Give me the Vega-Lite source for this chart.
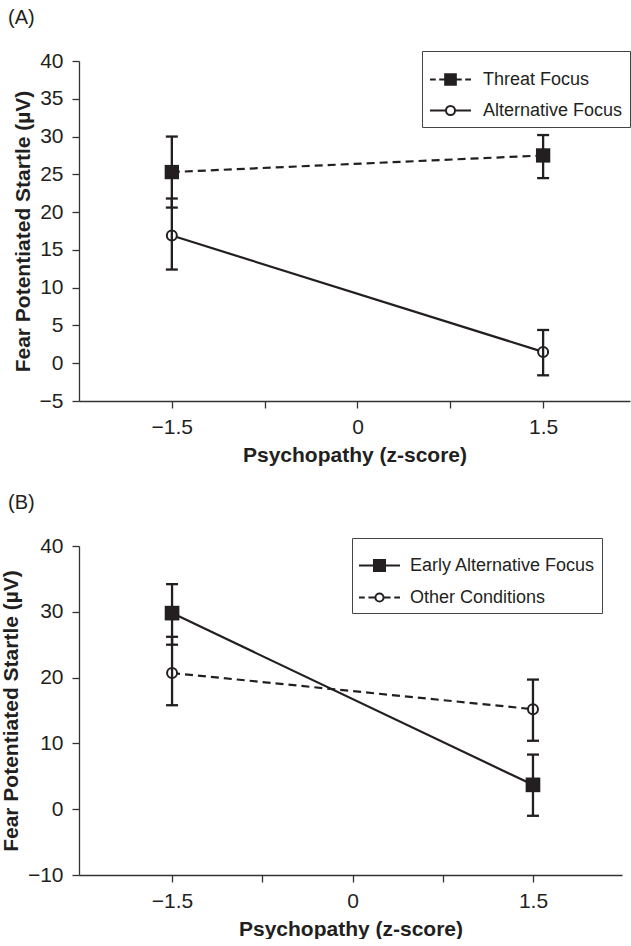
{
  "$schema": "https://vega.github.io/schema/vega-lite/v6.json",
  "padding": {"left": 0, "top": 8, "right": 0, "bottom": 0},
  "background": "white",
  "spacing": 28,
  "resolve": {"scale": {"shape": "independent", "fill": "independent", "stroke": "independent"}},
  "config": {
    "font": "Liberation Sans",
    "view": {"stroke": null},
    "axis": {
      "domainColor": "#333333", "domainWidth": 1.3, "tickColor": "#333333", "tickWidth": 1.3, "tickSize": 7,
      "grid": false, "labelFont": "Liberation Sans", "labelFontSize": 21, "labelColor": "#231f20",
      "titleFont": "Liberation Sans", "titleFontSize": 21, "titleFontWeight": "bold", "titleColor": "#231f20"
    },
    "axisX": {"labelPadding": 8, "titlePadding": 7},
    "axisY": {"labelPadding": 9, "titlePadding": 6},
    "title": {"font": "Liberation Sans", "fontSize": 20, "fontWeight": "normal", "color": "#231f20", "anchor": "start", "frame": "group"}
  },
  "vconcat": [
    {
      "title": {"text": "(A)", "dx": -71, "offset": 22},
      "width": 551,
      "height": 340,
      "data": {"values": [
        {"z": -1.5, "group": "Threat Focus", "y": 25.3, "lo": 20.6, "hi": 30.0},
        {"z": 1.5, "group": "Threat Focus", "y": 27.5, "lo": 24.5, "hi": 30.2},
        {"z": -1.5, "group": "Alternative Focus", "y": 16.9, "lo": 12.4, "hi": 21.8},
        {"z": 1.5, "group": "Alternative Focus", "y": 1.5, "lo": -1.6, "hi": 4.4}
      ]},
      "encoding": {
        "x": {"field": "z", "type": "quantitative", "scale": {"domain": [-2.25, 2.202], "nice": false, "zero": false},
          "axis": {"title": "Psychopathy (z-score)", "values": [-1.5, -0.75, 0, 0.75, 1.5],
            "labelExpr": "datum.value === -1.5 ? '−1.5' : datum.value === 1.5 ? '1.5' : datum.value === 0 ? '0' : ''"}}
      },
      "layer": [
        {
          "transform": [{"filter": "datum.group === 'Threat Focus'"}],
          "mark": {"type": "line", "color": "#231f20", "strokeWidth": 2.2, "strokeDash": [8, 5]},
          "encoding": {
            "y": {"field": "y", "type": "quantitative", "scale": {"domain": [-5, 40], "nice": false, "zero": false},
              "axis": {"title": "Fear Potentiated Startle (µV)", "values": [-5, 0, 5, 10, 15, 20, 25, 30, 35, 40], "labelExpr": "replace(datum.label, '-', '−')"}}
          }
        },
        {
          "transform": [{"filter": "datum.group === 'Alternative Focus'"}],
          "mark": {"type": "line", "color": "#231f20", "strokeWidth": 2.2},
          "encoding": {
            "y": {"field": "y", "type": "quantitative", "scale": {"domain": [-5, 40], "nice": false, "zero": false},
              "axis": {"title": "Fear Potentiated Startle (µV)", "values": [-5, 0, 5, 10, 15, 20, 25, 30, 35, 40], "labelExpr": "replace(datum.label, '-', '−')"}}
          }
        },
        {
          "transform": [{"filter": "datum.group === 'Threat Focus'"}],
          "mark": {"type": "point", "shape": "square", "size": 205, "filled": true, "fill": "#231f20", "stroke": "#231f20", "strokeWidth": 0, "opacity": 1},
          "encoding": {
            "y": {"field": "y", "type": "quantitative", "scale": {"domain": [-5, 40], "nice": false, "zero": false},
              "axis": {"title": "Fear Potentiated Startle (µV)", "values": [-5, 0, 5, 10, 15, 20, 25, 30, 35, 40], "labelExpr": "replace(datum.label, '-', '−')"}}
          }
        },
        {
          "transform": [{"filter": "datum.group === 'Alternative Focus'"}],
          "mark": {"type": "point", "shape": "circle", "size": 100, "filled": false, "fill": "white", "stroke": "#231f20", "strokeWidth": 2, "opacity": 1},
          "encoding": {
            "y": {"field": "y", "type": "quantitative", "scale": {"domain": [-5, 40], "nice": false, "zero": false},
              "axis": {"title": "Fear Potentiated Startle (µV)", "values": [-5, 0, 5, 10, 15, 20, 25, 30, 35, 40], "labelExpr": "replace(datum.label, '-', '−')"}}
          }
        },
        {
          "mark": {"type": "rule", "color": "#231f20", "strokeWidth": 2.3},
          "encoding": {
            "y": {"field": "lo", "type": "quantitative", "scale": {"domain": [-5, 40], "nice": false, "zero": false},
              "axis": {"title": "Fear Potentiated Startle (µV)", "values": [-5, 0, 5, 10, 15, 20, 25, 30, 35, 40], "labelExpr": "replace(datum.label, '-', '−')"}},
            "y2": {"field": "hi"}
          }
        },
        {
          "transform": [{"fold": ["lo", "hi"], "as": ["k", "v"]}],
          "mark": {"type": "tick", "orient": "horizontal", "color": "#231f20", "size": 12, "thickness": 2.3, "opacity": 1},
          "encoding": {
            "y": {"field": "v", "type": "quantitative", "scale": {"domain": [-5, 40], "nice": false, "zero": false},
              "axis": {"title": "Fear Potentiated Startle (µV)", "values": [-5, 0, 5, 10, 15, 20, 25, 30, 35, 40], "labelExpr": "replace(datum.label, '-', '−')"}}
          }
        },
        {
          "mark": {"type": "point", "filled": true, "strokeWidth": 2, "opacity": 0},
          "encoding": {
            "y": {"field": "y", "type": "quantitative", "scale": {"domain": [-5, 40], "nice": false, "zero": false},
              "axis": {"title": "Fear Potentiated Startle (µV)", "values": [-5, 0, 5, 10, 15, 20, 25, 30, 35, 40], "labelExpr": "replace(datum.label, '-', '−')"}},
            "shape": {"field": "group", "type": "nominal",
              "scale": {"domain": ["Threat Focus", "Alternative Focus"],
                "range": ["M-1,0H-0.72M-0.55,0H-0.3M-0.26,-0.26H0.26V0.26H-0.26ZM0.3,0H0.55M0.72,0H1",
                          "M-1,0H-0.22M0.22,0H1M0.22,0C0.22,0.12,0.12,0.22,0,0.22C-0.12,0.22,-0.22,0.12,-0.22,0C-0.22,-0.12,-0.12,-0.22,0,-0.22C0.12,-0.22,0.22,-0.12,0.22,0Z"]},
              "legend": {"orient": "none", "legendX": 343, "legendY": -10, "title": null, "symbolOpacity": 1,
                "labelFont": "Liberation Sans", "labelFontSize": 18, "labelColor": "#231f20", "labelLimit": 300,
                "symbolSize": 1681, "symbolStrokeWidth": 2,
                "labelOffset": 11, "strokeColor": "#444444", "padding": 7, "fillColor": "white", "rowPadding": -6}},
            "fill": {"field": "group", "type": "nominal",
              "scale": {"domain": ["Threat Focus", "Alternative Focus"], "range": ["#231f20", "white"]},
              "legend": {"orient": "none", "legendX": 343, "legendY": -10, "title": null, "symbolOpacity": 1,
                "labelFont": "Liberation Sans", "labelFontSize": 18, "labelColor": "#231f20", "labelLimit": 300,
                "symbolSize": 1681, "symbolStrokeWidth": 2,
                "labelOffset": 11, "strokeColor": "#444444", "padding": 7, "fillColor": "white", "rowPadding": -6}},
            "stroke": {"field": "group", "type": "nominal",
              "scale": {"domain": ["Threat Focus", "Alternative Focus"], "range": ["#231f20", "#231f20"]},
              "legend": {"orient": "none", "legendX": 343, "legendY": -10, "title": null, "symbolOpacity": 1,
                "labelFont": "Liberation Sans", "labelFontSize": 18, "labelColor": "#231f20", "labelLimit": 300,
                "symbolSize": 1681, "symbolStrokeWidth": 2,
                "labelOffset": 11, "strokeColor": "#444444", "padding": 7, "fillColor": "white", "rowPadding": -6}}
          }
        }
      ]
    },
    {
      "title": {"text": "(B)", "dx": -71, "offset": 22},
      "width": 543,
      "height": 329,
      "data": {"values": [
        {"z": -1.5, "group": "Early Alternative Focus", "y": 29.8, "lo": 25.0, "hi": 34.2},
        {"z": 1.5, "group": "Early Alternative Focus", "y": 3.7, "lo": -1.0, "hi": 8.3},
        {"z": -1.5, "group": "Other Conditions", "y": 20.7, "lo": 15.8, "hi": 26.2},
        {"z": 1.5, "group": "Other Conditions", "y": 15.2, "lo": 10.4, "hi": 19.7}
      ]},
      "encoding": {
        "x": {"field": "z", "type": "quantitative", "scale": {"domain": [-2.2735, 2.24], "nice": false, "zero": false},
          "axis": {"title": "Psychopathy (z-score)", "values": [-1.5, -0.75, 0, 0.75, 1.5],
            "labelExpr": "datum.value === -1.5 ? '−1.5' : datum.value === 1.5 ? '1.5' : datum.value === 0 ? '0' : ''"}}
      },
      "layer": [
        {
          "transform": [{"filter": "datum.group === 'Early Alternative Focus'"}],
          "mark": {"type": "line", "color": "#231f20", "strokeWidth": 2.2},
          "encoding": {
            "y": {"field": "y", "type": "quantitative", "scale": {"domain": [-10, 40], "nice": false, "zero": false},
              "axis": {"title": "Fear Potentiated Startle (µV)", "values": [-10, 0, 10, 20, 30, 40], "labelExpr": "replace(datum.label, '-', '−')"}}
          }
        },
        {
          "transform": [{"filter": "datum.group === 'Other Conditions'"}],
          "mark": {"type": "line", "color": "#231f20", "strokeWidth": 2.2, "strokeDash": [8, 5]},
          "encoding": {
            "y": {"field": "y", "type": "quantitative", "scale": {"domain": [-10, 40], "nice": false, "zero": false},
              "axis": {"title": "Fear Potentiated Startle (µV)", "values": [-10, 0, 10, 20, 30, 40], "labelExpr": "replace(datum.label, '-', '−')"}}
          }
        },
        {
          "transform": [{"filter": "datum.group === 'Early Alternative Focus'"}],
          "mark": {"type": "point", "shape": "square", "size": 215, "filled": true, "fill": "#231f20", "stroke": "#231f20", "strokeWidth": 0, "opacity": 1},
          "encoding": {
            "y": {"field": "y", "type": "quantitative", "scale": {"domain": [-10, 40], "nice": false, "zero": false},
              "axis": {"title": "Fear Potentiated Startle (µV)", "values": [-10, 0, 10, 20, 30, 40], "labelExpr": "replace(datum.label, '-', '−')"}}
          }
        },
        {
          "transform": [{"filter": "datum.group === 'Other Conditions'"}],
          "mark": {"type": "point", "shape": "circle", "size": 100, "filled": false, "fill": "white", "stroke": "#231f20", "strokeWidth": 2, "opacity": 1},
          "encoding": {
            "y": {"field": "y", "type": "quantitative", "scale": {"domain": [-10, 40], "nice": false, "zero": false},
              "axis": {"title": "Fear Potentiated Startle (µV)", "values": [-10, 0, 10, 20, 30, 40], "labelExpr": "replace(datum.label, '-', '−')"}}
          }
        },
        {
          "mark": {"type": "rule", "color": "#231f20", "strokeWidth": 2.3},
          "encoding": {
            "y": {"field": "lo", "type": "quantitative", "scale": {"domain": [-10, 40], "nice": false, "zero": false},
              "axis": {"title": "Fear Potentiated Startle (µV)", "values": [-10, 0, 10, 20, 30, 40], "labelExpr": "replace(datum.label, '-', '−')"}},
            "y2": {"field": "hi"}
          }
        },
        {
          "transform": [{"fold": ["lo", "hi"], "as": ["k", "v"]}],
          "mark": {"type": "tick", "orient": "horizontal", "color": "#231f20", "size": 12, "thickness": 2.3, "opacity": 1},
          "encoding": {
            "y": {"field": "v", "type": "quantitative", "scale": {"domain": [-10, 40], "nice": false, "zero": false},
              "axis": {"title": "Fear Potentiated Startle (µV)", "values": [-10, 0, 10, 20, 30, 40], "labelExpr": "replace(datum.label, '-', '−')"}}
          }
        },
        {
          "mark": {"type": "point", "filled": true, "strokeWidth": 2, "opacity": 0},
          "encoding": {
            "y": {"field": "y", "type": "quantitative", "scale": {"domain": [-10, 40], "nice": false, "zero": false},
              "axis": {"title": "Fear Potentiated Startle (µV)", "values": [-10, 0, 10, 20, 30, 40], "labelExpr": "replace(datum.label, '-', '−')"}},
            "shape": {"field": "group", "type": "nominal",
              "scale": {"domain": ["Early Alternative Focus", "Other Conditions"],
                "range": ["M-1,0H1M-0.27,-0.27H0.27V0.27H-0.27Z",
                          "M-1,0H-0.72M-0.54,0H-0.2M0.2,0H0.54M0.72,0H1M0.2,0C0.2,0.11,0.11,0.2,0,0.2C-0.11,0.2,-0.2,0.11,-0.2,0C-0.2,-0.11,-0.11,-0.2,0,-0.2C0.11,-0.2,0.2,-0.11,0.2,0Z"]},
              "legend": {"orient": "none", "legendX": 273, "legendY": -8, "title": null, "symbolOpacity": 1,
                "labelFont": "Liberation Sans", "labelFontSize": 18, "labelColor": "#231f20", "labelLimit": 300,
                "symbolSize": 1681, "symbolStrokeWidth": 2,
                "labelOffset": 9, "strokeColor": "#444444", "padding": 6, "fillColor": "white", "rowPadding": -8}},
            "fill": {"field": "group", "type": "nominal",
              "scale": {"domain": ["Early Alternative Focus", "Other Conditions"], "range": ["#231f20", "white"]},
              "legend": {"orient": "none", "legendX": 273, "legendY": -8, "title": null, "symbolOpacity": 1,
                "labelFont": "Liberation Sans", "labelFontSize": 18, "labelColor": "#231f20", "labelLimit": 300,
                "symbolSize": 1681, "symbolStrokeWidth": 2,
                "labelOffset": 9, "strokeColor": "#444444", "padding": 6, "fillColor": "white", "rowPadding": -8}},
            "stroke": {"field": "group", "type": "nominal",
              "scale": {"domain": ["Early Alternative Focus", "Other Conditions"], "range": ["#231f20", "#231f20"]},
              "legend": {"orient": "none", "legendX": 273, "legendY": -8, "title": null, "symbolOpacity": 1,
                "labelFont": "Liberation Sans", "labelFontSize": 18, "labelColor": "#231f20", "labelLimit": 300,
                "symbolSize": 1681, "symbolStrokeWidth": 2,
                "labelOffset": 9, "strokeColor": "#444444", "padding": 6, "fillColor": "white", "rowPadding": -8}}
          }
        }
      ]
    }
  ]
}
